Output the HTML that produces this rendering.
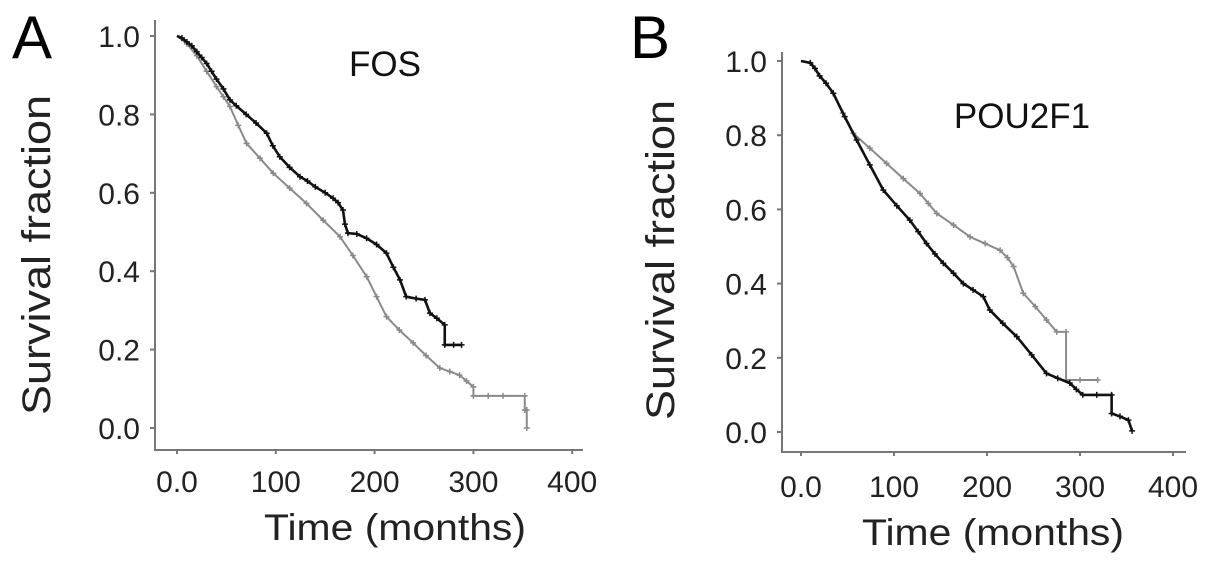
<!DOCTYPE html>
<html><head><meta charset="utf-8"><style>
html,body{margin:0;padding:0;background:#fff;}
svg{display:block;font-family:"Liberation Sans",sans-serif;}
</style></head><body>
<svg id="chart" width="1205" height="561" viewBox="0 0 1205 561">
<g id="pA"></g>
<g id="pB"></g>
</svg>
<script>
const xTicks=[0,100,200,300,400];
const xTickLabels=["0.0","100","200","300","400"];
const yTicks=[0,0.2,0.4,0.6,0.8,1.0];
const yTickLabels=["0.0","0.2","0.4","0.6","0.8","1.0"];
// Panel A (FOS)
const fosHighT=[0,5,10,15,20,25,30,35,40,47,53.6,60,70,80,90.8,97,104,114,124.5,132,140,150,158,163,168,170,173,182,191.9,202,212,219,225.7,232,242,251,256,263,271,271,280,288];
const fosHighS=[1.0,0.995,0.985,0.975,0.96,0.945,0.93,0.91,0.89,0.865,0.837,0.822,0.80,0.778,0.752,0.72,0.692,0.665,0.641,0.63,0.615,0.60,0.586,0.575,0.556,0.52,0.497,0.495,0.484,0.468,0.446,0.41,0.378,0.335,0.33,0.327,0.293,0.28,0.263,0.212,0.212,0.212];
const fosLowT=[0,10,20,30,40,47,53.6,62,70.4,84,97.4,114,131,148,165,178,192,202,212,225,239,252,266,276,286,293,300,300,315,330,352,352,354,354];
const fosLowS=[1.0,0.98,0.95,0.91,0.871,0.845,0.82,0.772,0.726,0.688,0.65,0.612,0.573,0.53,0.488,0.44,0.386,0.335,0.284,0.25,0.217,0.185,0.153,0.144,0.135,0.12,0.105,0.082,0.082,0.082,0.082,0.046,0.046,0.0];
// Panel B (POU2F1)
const pouBlackT=[0,10,15,20,27,34.7,47,59.8,74,88.5,103,117,126,135,144,153,164,174.6,185,196,203,217,232,248,264,276,289,296,303,318,334,334,343,352,356];
const pouBlackS=[1.0,0.995,0.98,0.96,0.94,0.913,0.85,0.787,0.72,0.652,0.61,0.571,0.54,0.508,0.48,0.455,0.428,0.40,0.383,0.365,0.329,0.293,0.257,0.208,0.158,0.145,0.132,0.115,0.10,0.10,0.10,0.05,0.042,0.032,0.003];
const pouGrayT=[0,10,20,34.7,45,56.3,74,92,110,128,137,146,164,181.7,198,214,222,228.6,239,252,264,275,285,285,300,319];
const pouGrayS=[1.0,0.995,0.96,0.913,0.86,0.805,0.765,0.724,0.683,0.643,0.616,0.589,0.558,0.526,0.508,0.49,0.47,0.446,0.374,0.338,0.302,0.27,0.27,0.14,0.14,0.14];

const NS="http://www.w3.org/2000/svg";
function mk(tag,attrs,parent,txt){const e=document.createElementNS(NS,tag);for(const k in attrs)e.setAttribute(k,attrs[k]);if(txt!==undefined)e.textContent=txt;parent.appendChild(e);return e;}

function panel(g,cfg){
  const X=v=>cfg.x0+v*cfg.xs;
  const Y=v=>cfg.y0-v*cfg.ys;
  const ax=mk('path',{d:`M${cfg.axL},${cfg.axTop}V${cfg.axB}H${cfg.axR}`,fill:'none',stroke:'#777','stroke-width':2},g);
  
  
  xTicks.forEach((t,i)=>{
    const tk=mk('line',{x1:X(t),x2:X(t),y1:cfg.axB,y2:cfg.axB+4,stroke:'#777','stroke-width':2},g);
    
    
    const tl=mk('text',{x:X(t),y:cfg.xLabY,'text-anchor':'middle','font-size':30,fill:'#222'},g,xTickLabels[i]);
    
    
  });
  yTicks.forEach((t,i)=>{
    const tk=mk('line',{x1:cfg.axL-5,x2:cfg.axL,y1:Y(t),y2:Y(t),stroke:'#777','stroke-width':2},g);
    
    
    const tl=mk('text',{x:cfg.yLabX,y:Y(t)+11,'text-anchor':'end','font-size':30,fill:'#222'},g,yTickLabels[i]);
    
    
  });
  cfg.series.forEach(s=>{
    const pts=s.t.map((t,i)=>X(t)+','+Y(s.s[i])).join(' ');
    const pl=mk('polyline',{points:pts,fill:'none',stroke:s.color,'stroke-width':s.w},g);
    
    
    s.t.forEach((t,i)=>{
      if(i===0)return;
      const c=mk('path',{d:`M${X(t)-3},${Y(s.s[i])}h6M${X(t)},${Y(s.s[i])-3}v6`,stroke:s.color,'stroke-width':1.5},g);
      
      
    });
  });
  const L=mk('text',{x:cfg.letX,y:cfg.letY,'font-size':60,fill:'#000'},g,cfg.letter);
  
  
  const yt=mk('text',{x:0,y:0,transform:`translate(${cfg.ytX},${cfg.ytY}) rotate(-90)`,'text-anchor':'middle','font-size':40,fill:'#222',textLength:320,lengthAdjust:'spacingAndGlyphs'},g,'Survival fraction');
  
  
  const xt=mk('text',{x:cfg.xtX,y:cfg.xtY,'text-anchor':'middle','font-size':37,fill:'#222',textLength:262,lengthAdjust:'spacingAndGlyphs'},g,'Time (months)');
  
  
  const gt=mk('text',{x:cfg.gX,y:cfg.gY,'text-anchor':'middle','font-size':35,fill:'#111'},g,cfg.gene);
  
  
}

panel(document.getElementById('pA'),{x0:177,xs:0.988,y0:428,ys:392,axL:155,axTop:20,axB:450,axR:583,xLabY:492,yLabX:140,
  letter:'A',letX:12,letY:58,ytX:50,ytY:255,xtX:395,xtY:540,gene:'FOS',gX:385,gY:76,
  series:[{t:fosLowT,s:fosLowS,color:'#8a8a8a',w:2,name:'fos-low-curve'},{t:fosHighT,s:fosHighS,color:'#111',w:2.6,name:'fos-high-curve'}]});
panel(document.getElementById('pB'),{x0:801,xs:0.93,y0:432,ys:371,axL:782,axTop:52,axB:452,axR:1186,xLabY:497,yLabX:767,
  letter:'B',letX:630,letY:58,ytX:674,ytY:260,xtX:993,xtY:545,gene:'POU2F1',gX:1022,gY:128,
  series:[{t:pouGrayT,s:pouGrayS,color:'#8a8a8a',w:2,name:'pou2f1-gray-curve'},{t:pouBlackT,s:pouBlackS,color:'#111',w:2.6,name:'pou2f1-black-curve'}]});
</script>
</body></html>
